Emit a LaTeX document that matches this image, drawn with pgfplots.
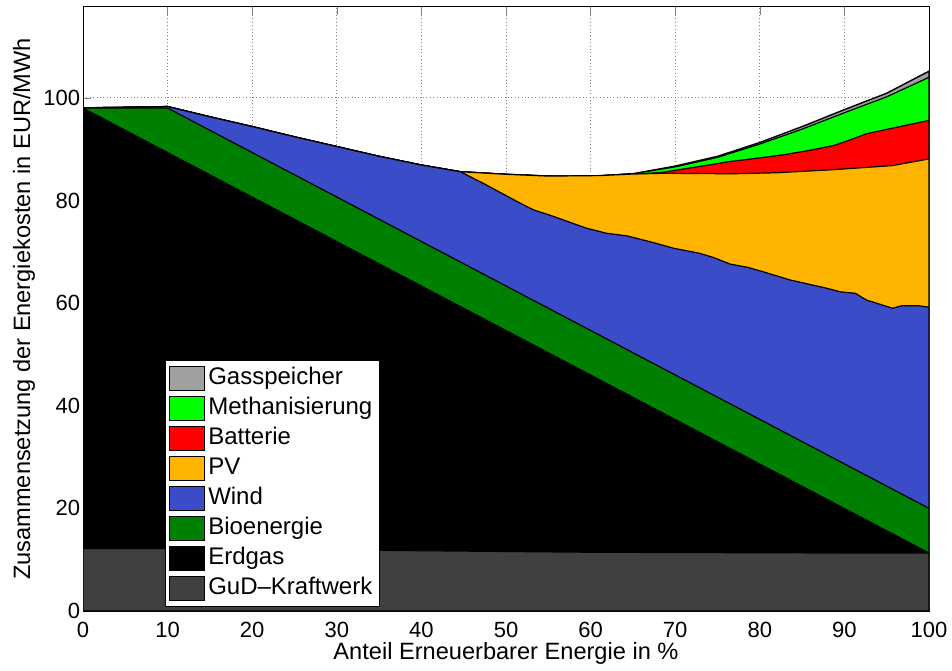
\documentclass[border=0pt]{standalone}
\usepackage{fontspec}
\setmainfont{Liberation Sans}
\usepackage{pgfplots}
\pgfplotsset{compat=1.18}
\definecolor{cGas}{RGB}{160,160,160}
\definecolor{cMeth}{RGB}{0,255,0}
\definecolor{cBat}{RGB}{255,0,0}
\definecolor{cPV}{RGB}{255,180,0}
\definecolor{cWind}{RGB}{58,76,200}
\definecolor{cBio}{RGB}{0,128,0}
\definecolor{cErd}{RGB}{0,0,0}
\definecolor{cGuD}{RGB}{64,64,64}
\begin{document}
\begin{tikzpicture}
\begin{axis}[
  width=423pt, height=302pt, scale only axis,
  xmin=0, xmax=100, ymin=0, ymax=117.7,
  xtick={0,10,...,100}, ytick={0,20,...,100},
  grid=major, grid style={dash pattern=on 0.5pt off 1.2pt, gray, line width=0.4pt},
  tick align=inside, tick pos=both, major tick length=4pt,
  axis line style={line width=0.5pt},
  xlabel={Anteil Erneuerbarer Energie in \%},
  ylabel={Zusammensetzung der Energiekosten in EUR/MWh},
  ticklabel style={font=\fontsize{11}{13}\selectfont},
  xticklabel style={anchor=base, yshift=-13pt},
  yticklabel style={anchor=east, inner sep=0pt, xshift=-1.2pt},
  label style={font=\fontsize{11.8}{14}\selectfont},
  xlabel style={at={(axis description cs:0.5,-0.0811)}, anchor=base},
  ylabel style={at={(axis description cs:-0.0626,0.5)}, anchor=base},
  /pgf/number format/assume math mode=true,
  legend style={at={(axis cs:9.7,0.8)}, anchor=south west, draw=black, fill=white,
    font=\fontsize{12}{14}\selectfont, inner xsep=2pt, inner ysep=1.5pt,
    row sep=0pt, nodes={inner sep=1.5pt, text height=9pt, text depth=3pt}},
  legend cell align=left,
  legend image code/.code={\draw[#1,draw=black,line width=0.4pt] (0pt,-6pt) rectangle (17.5pt,6pt);},
]
\addplot[fill=cGas, draw=black, line width=0.7pt] coordinates {
(0,98.05) (5,98.15) (10,98.3) (15,96.3) (20,94.4) (25,92.4) (30,90.5) (35,88.6) (40,86.9) (44.6,85.6) (50,85.1) (55,84.75) (60,84.7) (65,85.2)
(70,86.7) (75,88.6) (80,91.3) (85,94.4) (90,97.7) (95,100.9) (100,105.2)} \closedcycle;
\addlegendentry{Gasspeicher}
\addplot[fill=cMeth, draw=black, line width=0.6pt] coordinates {
(0,98.05) (5,98.15) (10,98.3) (15,96.3) (20,94.4) (25,92.4) (30,90.5) (35,88.6) (40,86.9) (44.6,85.6) (50,85.1) (55,84.75) (60,84.7) (65,85.2)
(70,86.55) (75,88.4) (80,91.0) (85,93.9) (90,97.1) (95,100.2) (100,104.0)} \closedcycle;
\addlegendentry{Methanisierung}
\addplot[fill=cBat, draw=black, line width=0.6pt] coordinates {
(0,98.05) (5,98.15) (10,98.3) (15,96.3) (20,94.4) (25,92.4) (30,90.5) (35,88.6) (40,86.9) (44.6,85.6) (50,85.1) (55,84.75) (60,84.7) (65,85.2)
(67,85.3) (68.6,85.5) (72,86.4) (76.5,87.6) (80,88.3) (82.8,88.9) (86,89.8) (88.7,90.7) (90,91.4) (92.6,93.0) (95.7,94.1) (100,95.6)} \closedcycle;
\addlegendentry{Batterie}
\addplot[fill=cPV, draw=black, line width=0.6pt] coordinates {
(0,98.05) (5,98.15) (10,98.3) (15,96.3) (20,94.4) (25,92.4) (30,90.5) (35,88.6) (40,86.9) (44.6,85.6) (50,85.1) (55,84.75) (61.1,84.85) (65,85.15)
(68.6,85.3) (76.8,85.2) (82,85.4) (88.7,86.0) (95.7,86.8) (100,88.1)} \closedcycle;
\addlegendentry{PV}
\addplot[fill=cWind, draw=black, line width=0.6pt] coordinates {
(0,98.05) (5,98.15) (10,98.3) (15,96.3) (20,94.4) (25,92.4) (30,90.5) (35,88.6) (40,86.9) (44.6,85.6) (47.7,83.0) (51.3,79.8) (53.2,78.2) (55.6,76.9) (59.5,74.6) (61.9,73.6) (64.3,73.1) (67.4,71.8) (69.8,70.7) (72.9,69.7) (74.5,68.9) (76.5,67.6) (78.5,67.0) (80.4,66.1) (83.6,64.5) (87.9,62.9) (89.5,62.2) (91.3,61.9) (92.6,60.6) (95.7,59.0) (96.8,59.5) (98.7,59.5) (100,59.2)} \closedcycle;
\addlegendentry{Wind}
\addplot[fill=cBio, draw=black, line width=0.6pt] coordinates {
(0,98.0) (10,98.0) (100,20.0)} \closedcycle;
\addlegendentry{Bioenergie}
\addplot[fill=cErd, draw=black, line width=0.6pt] coordinates {
(0,98.0) (100,11.3)} \closedcycle;
\addlegendentry{Erdgas}
\addplot[fill=cGuD, draw=black, line width=0.6pt] coordinates {
(0,12.2) (10,12.15) (20,12.0) (30,11.9) (40,11.75) (50,11.6) (60,11.45) (70,11.4) (80,11.35) (90,11.3) (100,11.3)} \closedcycle;
\addlegendentry{GuD--Kraftwerk}
\end{axis}
\pgfresetboundingbox
\path[use as bounding box] (-41.5pt,-29.5pt) rectangle (434.5pt,305.5pt);
\end{tikzpicture}
\end{document}
